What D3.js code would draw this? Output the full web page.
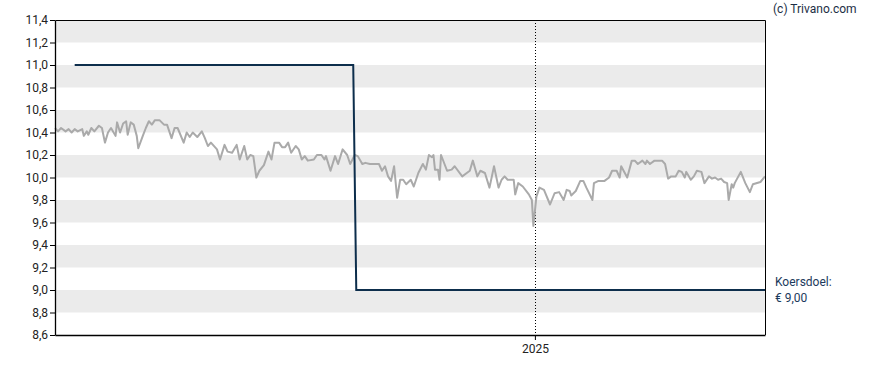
<!DOCTYPE html>
<html>
<head>
<meta charset="utf-8">
<script src="https://cdn.jsdelivr.net/npm/d3@7"></script>
<style>
  body { margin: 0; background: #fff; }
  svg { display: block; font-family: Roboto, Arial, sans-serif; }
</style>
</head>
<body>
<div id="chart"></div>
<script>
// koers (grijze lijn)
var priceDates = [
  "2024-02-19","2024-02-21","2024-02-23","2024-02-26","2024-02-28","2024-03-01","2024-03-03","2024-03-05","2024-03-08","2024-03-09",
  "2024-03-11","2024-03-12","2024-03-14","2024-03-16","2024-03-19","2024-03-21","2024-03-23","2024-03-25","2024-03-27","2024-03-30",
  "2024-03-31","2024-04-02","2024-04-04","2024-04-06","2024-04-07","2024-04-09","2024-04-11","2024-04-13","2024-04-14","2024-04-17",
  "2024-04-19","2024-04-21","2024-04-23","2024-04-25","2024-04-28","2024-05-01","2024-05-03","2024-05-06","2024-05-08","2024-05-10",
  "2024-05-14","2024-05-16","2024-05-18","2024-05-20","2024-05-23","2024-05-26","2024-05-28","2024-05-30","2024-06-01","2024-06-05",
  "2024-06-07","2024-06-10","2024-06-12","2024-06-15","2024-06-18","2024-06-20","2024-06-23","2024-06-25","2024-06-27","2024-06-29",
  "2024-07-01","2024-07-03","2024-07-06","2024-07-09","2024-07-11","2024-07-13","2024-07-16","2024-07-18","2024-07-20","2024-07-22",
  "2024-07-24","2024-07-27",
  "2024-07-29","2024-07-31","2024-08-02","2024-08-04","2024-08-08","2024-08-10","2024-08-13","2024-08-15","2024-08-16","2024-08-19",
  "2024-08-22","2024-08-24","2024-08-27","2024-08-30","2024-09-01","2024-09-04","2024-09-06","2024-09-09","2024-09-11","2024-09-14",
  "2024-09-20","2024-09-22","2024-09-24","2024-09-26","2024-09-28","2024-09-30","2024-10-02","2024-10-04","2024-10-06","2024-10-08",
  "2024-10-11","2024-10-13","2024-10-16","2024-10-19","2024-10-21","2024-10-23","2024-10-25","2024-10-26","2024-10-27","2024-10-29",
  "2024-10-30","2024-10-31","2024-11-04","2024-11-07","2024-11-09","2024-11-14","2024-11-17","2024-11-19","2024-11-21","2024-11-24",
  "2024-11-26","2024-11-29","2024-12-02","2024-12-05","2024-12-08","2024-12-10","2024-12-12","2024-12-14","2024-12-18","2024-12-19",
  "2024-12-21","2024-12-24","2024-12-28","2024-12-30",
  "2024-12-31","2025-01-02","2025-01-04","2025-01-07","2025-01-11","2025-01-14","2025-01-17","2025-01-20","2025-01-22","2025-01-24",
  "2025-01-25","2025-01-28","2025-01-31","2025-02-02","2025-02-04","2025-02-08","2025-02-09","2025-02-12","2025-02-16","2025-02-19",
  "2025-02-21","2025-02-24","2025-02-26","2025-02-27","2025-03-03","2025-03-06","2025-03-08","2025-03-10","2025-03-13","2025-03-15",
  "2025-03-16","2025-03-18","2025-03-21","2025-03-26","2025-03-28","2025-03-30","2025-04-01","2025-04-04","2025-04-06","2025-04-08",
  "2025-04-10","2025-04-11","2025-04-14","2025-04-16","2025-04-18","2025-04-21","2025-04-23","2025-04-26","2025-04-28","2025-04-30",
  "2025-05-02","2025-05-04","2025-05-06","2025-05-08","2025-05-09","2025-05-11","2025-05-12","2025-05-13","2025-05-17","2025-05-20",
  "2025-05-23","2025-05-25","2025-05-30","2025-06-02"
];
var priceValues = [
  10.44,10.41,10.44,10.41,10.43,10.40,10.43,10.41,10.43,10.37,
  10.41,10.38,10.44,10.41,10.46,10.44,10.31,10.40,10.44,10.37,
  10.49,10.40,10.48,10.50,10.38,10.49,10.47,10.37,10.26,10.37,
  10.44,10.50,10.47,10.51,10.51,10.47,10.47,10.35,10.44,10.44,
  10.31,10.40,10.36,10.40,10.36,10.41,10.35,10.28,10.31,10.25,
  10.16,10.29,10.23,10.22,10.29,10.16,10.28,10.16,10.20,10.19,
  10.00,10.06,10.11,10.23,10.16,10.31,10.31,10.27,10.27,10.31,
  10.22,10.28,
  10.25,10.16,10.19,10.15,10.16,10.20,10.20,10.16,10.19,10.06,
  10.19,10.12,10.25,10.20,10.12,10.20,10.19,10.12,10.13,10.12,
  10.12,10.06,10.10,10.01,9.97,10.10,9.82,9.98,9.98,9.94,
  9.98,9.92,10.04,10.12,10.07,10.20,10.18,10.20,10.07,10.07,
  9.98,10.20,10.06,10.07,10.10,10.01,10.04,10.06,10.15,10.01,
  10.06,10.04,9.91,10.10,9.91,9.98,10.01,9.98,9.98,9.85,
  9.95,9.92,9.85,9.80,
  9.57,9.83,9.91,9.89,9.76,9.86,9.87,9.80,9.89,9.88,
  9.84,9.88,9.97,9.97,9.91,9.80,9.95,9.97,9.97,10.00,
  10.06,10.06,10.00,10.10,10.00,10.15,10.15,10.12,10.15,10.12,
  10.15,10.12,10.15,10.15,10.12,9.99,10.01,10.01,10.06,10.05,
  10.00,10.05,9.98,10.01,10.06,10.05,9.95,10.01,9.99,10.00,
  9.98,9.99,9.96,9.95,9.80,9.94,9.91,9.95,10.05,9.95,
  9.87,9.94,9.96,10.01
];

// koersdoel (donkerblauwe lijn)
var targetDates = ["2024-03-03", "2024-09-03", "2024-09-05", "2025-06-02"];
var targetValues = [11.0, 11.0, 9.0, 9.0];

var yTicks = [8.6, 8.8, 9.0, 9.2, 9.4, 9.6, 9.8, 10.0, 10.2, 10.4, 10.6, 10.8, 11.0, 11.2, 11.4];
var bandStarts = [8.8, 9.2, 9.6, 10.0, 10.4, 10.8, 11.2];
var xTickDates = ["2025-01-01"];
var xTickLabels = ["2025"];

var width = 888, height = 370;
var margin = { top: 20, right: 123, bottom: 35, left: 55 };
var iw = width - margin.left - margin.right,
    ih = height - margin.top - margin.bottom;

var parse = d3.timeParse("%Y-%m-%d");
var price = priceDates.map(function(d, i) { return { date: parse(d), value: priceValues[i] }; });
var target = targetDates.map(function(d, i) { return { date: parse(d), value: targetValues[i] }; });

var x = d3.scaleTime()
    .domain([parse("2024-02-19"), parse("2025-06-02")])
    .range([0, iw]);
var y = d3.scaleLinear().domain([8.6, 11.4]).range([ih, 0]);

var nl = d3.formatLocale({ decimal: ",", thousands: ".", grouping: [3], currency: ["€ ", ""] });
var fmt = nl.format(".1f");

var svg = d3.select("#chart").append("svg")
    .attr("width", width)
    .attr("height", height);

var g = svg.append("g")
    .attr("transform", "translate(" + margin.left + "," + margin.top + ")");

// grijze banden
g.selectAll("rect.band")
    .data(bandStarts)
    .enter().append("rect")
    .attr("class", "band")
    .attr("x", 0)
    .attr("width", iw)
    .attr("y", function(d) { return y(d + 0.2); })
    .attr("height", function(d) { return y(d) - y(d + 0.2); })
    .attr("fill", "#ebebeb");

// stippellijn bij jaarwissel
g.selectAll("line.year")
    .data(xTickDates)
    .enter().append("line")
    .attr("class", "year")
    .attr("x1", function(d) { return Math.round(x(parse(d))) + 0.5; })
    .attr("x2", function(d) { return Math.round(x(parse(d))) + 0.5; })
    .attr("y1", 0)
    .attr("y2", ih)
    .attr("stroke", "#000")
    .attr("stroke-width", 1)
    .attr("stroke-dasharray", "1,2");

var line = d3.line()
    .x(function(d) { return x(d.date); })
    .y(function(d) { return y(d.value); });

g.append("path")
    .datum(price)
    .attr("d", line)
    .attr("fill", "none")
    .attr("stroke", "#aaaaaa")
    .attr("stroke-width", 2)
    .attr("stroke-linejoin", "round");

g.append("path")
    .datum(target)
    .attr("d", line)
    .attr("fill", "none")
    .attr("stroke", "#0d2e4c")
    .attr("stroke-width", 2);

// kader boven en rechts
g.append("path")
    .attr("d", "M0.5,0.5H" + (iw + 0.5) + "V" + ih)
    .attr("fill", "none")
    .attr("stroke", "#000")
    .attr("stroke-width", 1);

// assen
var yAxis = g.append("g")
    .call(d3.axisLeft(y).tickValues(yTicks).tickFormat(fmt)
      .tickSize(5).tickSizeOuter(0).tickPadding(2));
var xAxis = g.append("g")
    .attr("transform", "translate(0," + ih + ")")
    .call(d3.axisBottom(x)
      .tickValues(xTickDates.map(parse))
      .tickFormat(function(d, i) { return xTickLabels[i]; })
      .tickSize(5).tickSizeOuter(0).tickPadding(4));

[yAxis, xAxis].forEach(function(a) {
  a.select(".domain").attr("stroke", "#000").attr("stroke-width", 1.3);
  a.selectAll(".tick line").attr("stroke", "#000");
  a.selectAll(".tick text")
    .attr("fill", "#222")
    .style("font-size", "12px")
    .style("font-family", "Roboto, Arial, sans-serif");
});

// teksten rechts
svg.append("text")
    .attr("x", 773)
    .attr("y", 13)
    .attr("fill", "#1c2e45")
    .style("font-size", "12px")
    .text("(c) Trivano.com");

var last = target[target.length - 1];
var lbl = svg.append("text")
    .attr("x", margin.left + iw + 10)
    .attr("y", margin.top + y(last.value) - 4)
    .attr("fill", "#1c3a5c")
    .style("font-size", "12px");
lbl.append("tspan").text("Koersdoel:");
lbl.append("tspan")
    .attr("x", margin.left + iw + 10)
    .attr("dy", 16)
    .text(nl.format("$.2f")(last.value));
</script>
</body>
</html>
